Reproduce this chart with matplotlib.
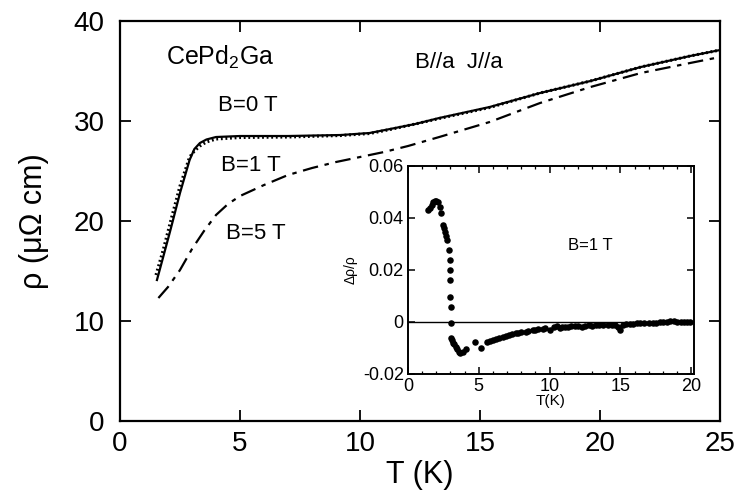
"""Resistivity of CePd2Ga with B//a, J//a, plus inset of magnetoresistance."""

import matplotlib
matplotlib.use("Agg")
import matplotlib.pyplot as plt
from matplotlib.ticker import MultipleLocator

plt.rcParams["font.family"] = ["Liberation Sans", "DejaVu Sans"]
plt.rcParams["mathtext.fontset"] = "custom"
plt.rcParams["mathtext.rm"] = "Liberation Sans"

# B = 0 T (solid)
t_b0 = [1.54, 1.8, 2.08, 2.2, 2.5, 2.9, 3.1, 3.33, 3.6, 4.0, 5.0, 7.0, 9.2, 10.4,
        11.25, 12.3, 13.3, 15.4, 17.5, 19.6, 21.7, 23.75, 25.0]
rho_b0 = [14.1, 16.4, 18.9, 20.0, 22.8, 26.1, 27.2, 27.8, 28.15, 28.4, 28.5, 28.5,
          28.6, 28.8, 29.2, 29.7, 30.3, 31.4, 32.8, 34.0, 35.4, 36.5, 37.1]

# B = 1 T (dotted, almost on top of B = 0)
t_b1 = [1.5, 1.8, 2.08, 2.2, 2.5, 2.9, 3.1, 3.33, 3.6, 4.0, 5.0, 7.0, 9.2, 10.4,
        11.25, 12.3, 13.3, 15.4, 17.5, 19.6, 21.7, 23.75, 25.0]
rho_b1 = [14.6, 17.1, 19.7, 20.8, 23.5, 26.4, 27.0, 27.5, 27.9, 28.2, 28.35, 28.4,
          28.55, 28.75, 29.15, 29.7, 30.25, 31.35, 32.8, 34.0, 35.4, 36.5, 37.1]

# B = 5 T (dashed)
t_b5 = [1.6, 2.0, 2.5, 3.0, 3.5, 4.0, 4.5, 5.0, 6.0, 7.0, 8.0, 9.0, 10.0, 11.0,
        12.0, 13.3, 15.4, 17.5, 19.6, 21.7, 23.75, 25.0]
rho_b5 = [12.3, 13.4, 15.1, 17.2, 19.0, 20.6, 21.7, 22.5, 23.6, 24.6, 25.3, 25.9,
          26.4, 26.9, 27.5, 28.4, 29.9, 31.8, 33.4, 34.8, 35.8, 36.4]

# inset: delta rho / rho at B = 1 T
t_mr = [1.42, 1.55, 1.66, 1.78, 1.89, 2.0, 2.12, 2.28, 2.35, 2.47, 2.55, 2.63,
        2.7, 2.77, 2.89, 2.94, 2.94, 2.98, 3.0, 3.05, 3.05, 3.05, 3.1, 3.17, 3.25,
        3.36, 3.45, 3.59, 3.7, 3.87, 4.06, 4.76, 5.15, 5.6, 5.8, 6.0, 6.2, 6.43,
        6.7, 6.9, 7.1, 7.36, 7.6, 7.8, 8.0, 8.3, 8.5, 8.8, 9.0, 9.2, 9.5, 9.7,
        10.0, 10.3, 10.5, 10.7, 10.9, 11.1, 11.3, 11.5, 11.8, 12.0, 12.3, 12.5,
        12.8, 13.0, 13.3, 13.5, 13.8, 14.1, 14.4, 14.6, 14.8, 15.0, 15.2, 15.4,
        15.7, 15.9, 16.2, 16.4, 16.7, 17.0, 17.3, 17.5, 17.8, 18.0, 18.3, 18.5,
        18.8, 19.0, 19.3, 19.5, 19.7, 19.9]
dr_mr = [0.043, 0.044, 0.045, 0.046, 0.0467, 0.0466, 0.0463, 0.0444, 0.0418,
         0.0373, 0.036, 0.0347, 0.033, 0.0315, 0.0277, 0.0238, 0.020, 0.0162,
         0.0097, 0.0059, -0.0005, -0.0063, -0.0070, -0.0079, -0.0085, -0.0095,
         -0.0105, -0.0114, -0.0118, -0.0114, -0.0105, -0.0076, -0.0101, -0.0076,
         -0.0072, -0.0070, -0.0066, -0.0063, -0.0059, -0.0055, -0.0050, -0.0046,
         -0.0044, -0.0042, -0.0040, -0.0037, -0.0035, -0.0032, -0.0030, -0.0028,
         -0.0026, -0.0024, -0.0030, -0.0020, -0.0015, -0.0025, -0.0018, -0.0018,
         -0.0020, -0.0016, -0.0017, -0.0016, -0.0018, -0.0014, -0.0013, -0.0014,
         -0.0013, -0.0012, -0.0012, -0.0011, -0.0010, -0.0012, -0.0020, -0.0030,
         -0.0012, -0.0008, -0.0007, -0.0006, -0.0005, -0.0005, -0.0004, -0.0004,
         -0.0003, -0.0002, -0.0001, 0.0, 0.0001, 0.0005, 0.0002, 0.0, 0.0, 0.0001,
         0.0, 0.0]

fig = plt.figure(figsize=(7.42, 4.97), dpi=100)
ax = fig.add_axes([0.1617, 0.1529, 0.8087, 0.8048])

ax.plot(t_b0, rho_b0, color="black", lw=1.6, ls="-")
ax.plot(t_b1, rho_b1, color="black", lw=2.2, ls=(0, (0.6, 0.9)))
ax.plot(t_b5, rho_b5, color="black", lw=1.6, ls=(0, (7, 3, 2, 3)))

ax.set_xlim(0, 25)
ax.set_ylim(0, 40)
ax.xaxis.set_major_locator(MultipleLocator(5))
ax.yaxis.set_major_locator(MultipleLocator(10))
ax.tick_params(direction="in", length=8, width=1.3, top=True, right=True,
               labelsize=20)
ax.tick_params(axis="y", pad=11)
ax.tick_params(axis="x", pad=7)
for s in ax.spines.values():
    s.set_linewidth(1.6)
ax.set_xlabel("T (K)", fontsize=22, labelpad=2)
ax.set_ylabel("ρ (μΩ cm)", fontsize=22, labelpad=18)

ax.text(1.9, 35.6, r"CePd$_2$Ga", fontsize=18)
ax.text(12.3, 35.3, "B//a  J//a", fontsize=16)
ax.text(4.1, 31.0, "B=0 T", fontsize=16)
ax.text(4.2, 25.0, "B=1 T", fontsize=16)
ax.text(4.4, 18.2, "B=5 T", fontsize=16)

ins = fig.add_axes([0.5499, 0.2475, 0.3854, 0.4185])
ins.scatter(t_mr, dr_mr, s=22, color="black", linewidths=0, zorder=3)
ins.axhline(0, color="black", lw=1.0)
ins.set_xlim(0, 20.2)
ins.set_ylim(-0.02, 0.06)
ins.xaxis.set_major_locator(MultipleLocator(5))
ins.xaxis.set_minor_locator(MultipleLocator(1))
ins.yaxis.set_major_locator(MultipleLocator(0.02))
ins.yaxis.set_major_formatter(plt.FuncFormatter(lambda v, p: "0" if abs(v) < 1e-9 else f"{v:.2f}"))
ins.tick_params(which="both", direction="in", top=True, right=True, labelsize=13)
ins.tick_params(which="major", length=5, width=1.1, pad=3)
ins.tick_params(which="minor", length=2.5, width=0.9)
for s in ins.spines.values():
    s.set_linewidth(1.4)
ins.set_xlabel("T(K)", fontsize=11, labelpad=-1)
ins.set_ylabel("Δρ/ρ", fontsize=10, labelpad=4)
ins.text(11.3, 0.0275, "B=1 T", fontsize=12)

fig.savefig("out.png", dpi=100)
